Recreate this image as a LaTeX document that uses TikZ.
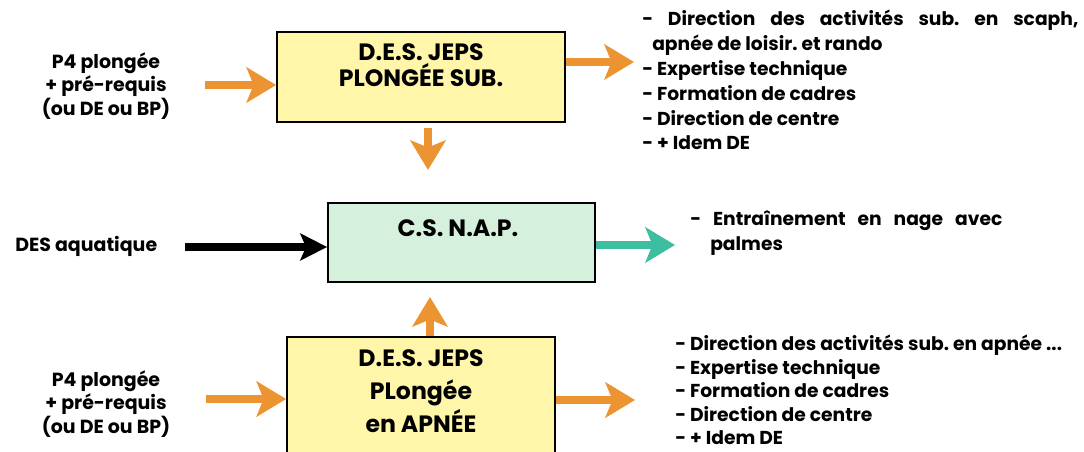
\documentclass[tikz,border=0pt]{standalone}
\usepackage{fontspec}
\setmainfont{Poppins}
\usetikzlibrary{arrows.meta, positioning}

\definecolor{arrowOrange}{RGB}{236,148,50}
\definecolor{arrowTeal}{RGB}{62,190,160}
\definecolor{boxYellow}{RGB}{255,246,170}
\definecolor{boxGreen}{RGB}{214,240,222}

\begin{document}
\frenchspacing
\begin{tikzpicture}[
   x=0.025cm, y=-0.025cm,
   fatarrow/.style={-{Stealth[length=21pt, width=25pt, inset=5pt]}, line width=5pt, draw=arrowOrange, fill=arrowOrange},
   tealarrow/.style={fatarrow, draw=arrowTeal, fill=arrowTeal},
   blackarrow/.style={-{Stealth[length=19pt, width=19pt, inset=4pt]}, line width=5pt, draw=black},
   desbox/.style={draw, line width=1.2pt, fill=boxYellow, inner sep=0pt},
   napbox/.style={desbox, fill=boxGreen},
   boxtext/.style={font=\fontsize{16.8}{18.4}\selectfont\bfseries, align=center, inner sep=0pt},
   listtext/.style={font=\fontsize{13.3}{17.7}\selectfont\bfseries, align=left, inner sep=0pt},
   sidetext/.style={font=\fontsize{13.5}{17}\selectfont\bfseries, align=center, inner sep=0pt}
]

% page frame (pixels of the scan)
\useasboundingbox (0,0) rectangle (1084,452);

% --- the three diplomas
\node[desbox, minimum width=7.2cm, minimum height=2.25cm] (jepsSub) at (421,77) {};
\node[napbox, minimum width=6.675cm, minimum height=1.975cm] (csNap) at (461.5,242.5) {};
\node[desbox, minimum width=6.7cm, minimum height=3.325cm] (jepsApnee) at (421,403.5) {};

\node[boxtext] (jepsSubTxt) at (421,65) {D.E.S. JEPS\\PLONGÉE SUB.};
\node[boxtext] (csNapTxt) at (458,228) {C.S. N.A.P.};
\node[boxtext, font=\fontsize{16.8}{23.4}\selectfont\bfseries] (jepsApneeTxt) at (421,391) {D.E.S. JEPS\\PLongée\\en APNÉE};

% --- what comes in
\node[sidetext] (preTop) at (106,86) {P4 plongée\\+ pré-requis\\(ou DE ou BP)};
\node[sidetext] (preBot) at (106,404) {P4 plongée\\+ pré-requis\\(ou DE ou BP)};
\node[sidetext, anchor=west] (desAqua) at (15,246) {DES aquatique};

% --- what goes out
\node[listtext, anchor=west] (subList) at (642,80) {%
   \makebox[10.9cm][s]{- Direction des activités sub. en scaph,}\\
   \hspace*{0.25cm}apnée de loisir. et rando\\
   - Expertise technique\\
   - Formation de cadres\\
   - Direction de centre\\
   - + Idem DE};
\node[listtext, anchor=west] (napList) at (690,233) {%
   \makebox[7.8cm][s]{- Entraînement en nage avec}\\
   \hspace*{0.5cm}palmes};
\node[listtext, font=\fontsize{13.3}{16.7}\selectfont\bfseries, anchor=west] (apneeList) at (675,390) {%
   - Direction des activités sub. en apnée ...\\
   - Expertise technique\\
   - Formation de cadres\\
   - Direction de centre\\
   - + Idem DE};

% arrow ends that touch no box
\coordinate (inSub) at (205,85);
\coordinate (outSub) at (634,62);
\coordinate (downTail) at (428,128);
\coordinate (downTip) at (428,170);
\coordinate (inNap) at (185,247);
\coordinate (outNap) at (675,245);
\coordinate (upTip) at (430,297);
\coordinate (inApnee) at (206,399);
\coordinate (outApnee) at (635,400);

% --- arrows
\draw[fatarrow] (inSub) -- (inSub -| jepsSub.west);
\draw[fatarrow] (outSub -| jepsSub.east) -- (outSub);
\draw[fatarrow] (downTail) -- (downTip);
\draw[blackarrow] (inNap) -- (inNap -| csNap.west);
\draw[tealarrow] (outNap -| csNap.east) -- (outNap);
\draw[fatarrow] (upTip |- jepsApnee.north) -- (upTip);
\draw[fatarrow] (inApnee) -- (inApnee -| jepsApnee.west);
\draw[fatarrow] (outApnee -| jepsApnee.east) -- (outApnee);

\end{tikzpicture}
\end{document}
